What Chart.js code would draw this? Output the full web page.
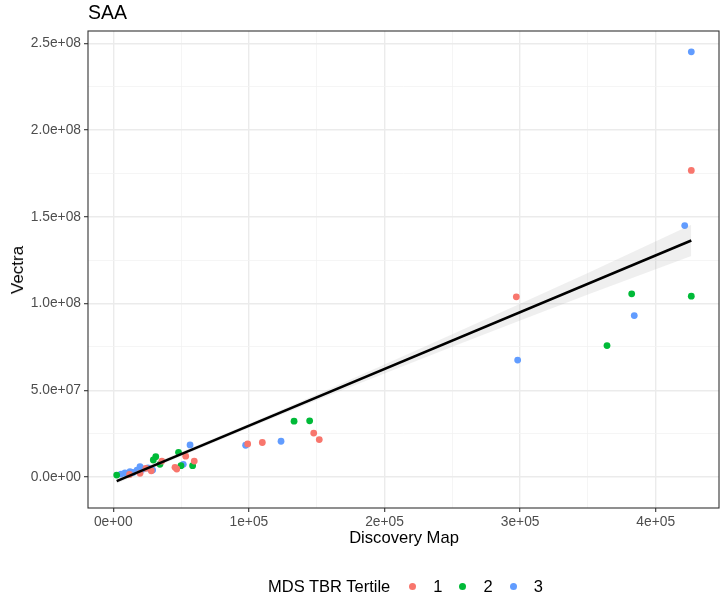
<!DOCTYPE html>
<html>
<head>
<meta charset="utf-8">
<script src="https://cdn.jsdelivr.net/npm/chart.js@4/dist/chart.umd.min.js"></script>
<style>
  body { margin: 0; background: #fff; }
  #wrap { position: relative; width: 727px; height: 601px; font-family: "Liberation Sans", Arial, sans-serif; }
  #chart { position: absolute; left: 0; top: 0; }
  .txt { position: absolute; color: #000; white-space: nowrap; }
  #title { left: 88px; top: 0px; font-size: 19.5px; line-height: 24px; }
  #ytitle { left: 18px; top: 270px; font-size: 17px; transform: translate(-50%, -50%) rotate(-90deg); }
  #xtitle { left: 404px; top: 538px; font-size: 16.6px; transform: translate(-50%, -50%); }
  #legend { left: 268px; top: 576px; font-size: 16.5px; line-height: 20px; display: flex; align-items: center; }
  #legend .head { margin-right: 2px; }
  .key { display: inline-flex; align-items: center; }
  .dot { display: inline-block; width: 7px; height: 7px; border-radius: 50%; margin: 0 17px 0 17px; }
</style>
</head>
<body>
<div id="wrap">
  <canvas id="chart" width="727" height="601"></canvas>
  <div class="txt" id="title">SAA</div>
  <div class="txt" id="ytitle">Vectra</div>
  <div class="txt" id="xtitle">Discovery Map</div>
  <div class="txt" id="legend"></div>
</div>
<script>
  const tertiles = ["1", "2", "3"];
  const tertileColors = ["#F8766D", "#00BA38", "#619CFF"];

  // tertile 1
  const t1X = [426250, 297200, 99100, 109900, 147800, 151900, 53400, 59700, 35800, 45500, 46800, 19700, 12000, 28000, 24000];
  const t1Y = [1.768e8, 1.039e8, 1.91e7, 1.99e7, 2.53e7, 2.16e7, 1.2e7, 9.2e6, 9.2e6, 5.6e6, 4.6e6, 2.1e6, 1.5e6, 3.6e6, 5.0e6];
  // tertile 2
  const t2X = [382300, 426250, 364100, 133300, 144800, 2500, 31300, 29500, 48100, 58500, 34400, 49900];
  const t2Y = [1.0565e8, 1.0427e8, 7.58e7, 3.22e7, 3.24e7, 1.1e6, 1.17e7, 9.8e6, 1.42e7, 6.5e6, 7.3e6, 6.5e6];
  // tertile 3
  const t3X = [426250, 421400, 384200, 298200, 97600, 123700, 56600, 51600, 29000, 8600, 12300, 17500, 21900, 25600, 28500, 19700, 5700, 19700, 14500, 10000];
  const t3Y = [2.452e8, 1.45e8, 9.31e7, 6.74e7, 1.83e7, 2.06e7, 1.85e7, 7.3e6, 4.0e6, 2.3e6, 3.1e6, 4.0e6, 4.6e6, 5.2e6, 4.0e6, 2.9e6, 1.7e6, 5.9e6, 2.6e6, 1.9e6];

  // fitted line and its band
  const fitX = [2500, 426250];
  const fitY = [-2.4e6, 1.364e8];
  const bandX = [2500, 50000, 100000, 150000, 200000, 250000, 300000, 350000, 426250];
  const bandHigh = [-1.0e6, 1.44e7, 3.07e7, 4.76e7, 6.49e7, 8.23e7, 9.99e7, 1.176e8, 1.454e8];
  const bandLow = [-3.8e6, 1.2e7, 2.83e7, 4.42e7, 5.97e7, 7.51e7, 9.03e7, 1.052e8, 1.274e8];

  const xTicks = [0, 50000, 100000, 150000, 200000, 250000, 300000, 350000, 400000];
  const xTickLabels = ["0e+00", "", "1e+05", "", "2e+05", "", "3e+05", "", "4e+05"];
  const yTicks = [0, 2.5e7, 5e7, 7.5e7, 1e8, 1.25e8, 1.5e8, 1.75e8, 2e8, 2.25e8, 2.5e8];
  const yTickLabels = ["0.0e+00", "", "5.0e+07", "", "1.0e+08", "", "1.5e+08", "", "2.0e+08", "", "2.5e+08"];

  const xMin = -18660, xMax = 446680;
  const yMin = -1.788e7, yMax = 2.572e8;

  function pairs(xs, ys) {
    return xs.map(function (x, i) { return { x: x, y: ys[i] }; });
  }

  function pointSet(label, xs, ys, color) {
    return {
      label: label, data: pairs(xs, ys), order: 2,
      backgroundColor: color, borderWidth: 0, pointRadius: 3.4, pointHoverRadius: 3.4
    };
  }

  function gridFor(labels) {
    return {
      color: function (ctx) { return labels[ctx.index] ? "#EBEBEB" : "#F3F3F3"; },
      lineWidth: function (ctx) { return labels[ctx.index] ? 1.4 : 0.8; },
      tickColor: function (ctx) { return labels[ctx.index] ? "#333333" : "rgba(0,0,0,0)"; },
      tickWidth: 1.1,
      tickLength: 4,
      drawTicks: true
    };
  }

  const panelBorder = {
    id: "panelBorder",
    afterDraw: function (chart) {
      const a = chart.chartArea;
      const ctx = chart.ctx;
      ctx.save();
      ctx.strokeStyle = "#333333";
      ctx.lineWidth = 1.1;
      ctx.strokeRect(a.left, a.top, a.right - a.left, a.bottom - a.top);
      ctx.restore();
    }
  };

  const tickFont = { family: "'Liberation Sans', Arial, sans-serif", size: 13.8 };

  new Chart(document.getElementById("chart"), {
    type: "scatter",
    data: {
      datasets: [
        { label: "fit", data: pairs(fitX, fitY), showLine: true, order: 0,
          borderColor: "#000000", borderWidth: 2.6, pointRadius: 0, fill: false },
        { label: "band high", data: pairs(bandX, bandHigh), showLine: true, order: 1,
          borderWidth: 0, borderColor: "rgba(0,0,0,0)", pointRadius: 0,
          fill: "+1", backgroundColor: "rgba(153,153,153,0.16)" },
        { label: "band low", data: pairs(bandX, bandLow), showLine: true, order: 1,
          borderWidth: 0, borderColor: "rgba(0,0,0,0)", pointRadius: 0, fill: false },
        pointSet(tertiles[0], t1X, t1Y, tertileColors[0]),
        pointSet(tertiles[1], t2X, t2Y, tertileColors[1]),
        pointSet(tertiles[2], t3X, t3Y, tertileColors[2])
      ]
    },
    options: {
      responsive: false,
      animation: false,
      layout: { padding: { left: 0, top: 31, right: 8, bottom: 0 } },
      plugins: { legend: { display: false }, tooltip: { enabled: false } },
      scales: {
        x: {
          type: "linear", min: xMin, max: xMax,
          afterBuildTicks: function (s) { s.ticks = xTicks.map(function (v) { return { value: v }; }); },
          afterFit: function (s) { s.height = 93; },
          grid: gridFor(xTickLabels),
          border: { display: false },
          ticks: {
            autoSkip: false, maxRotation: 0, padding: 2, color: "#4D4D4D", font: tickFont,
            callback: function (v, i) { return xTickLabels[i]; }
          }
        },
        y: {
          type: "linear", min: yMin, max: yMax,
          afterBuildTicks: function (s) { s.ticks = yTicks.map(function (v) { return { value: v }; }); },
          afterFit: function (s) { s.width = 88; },
          grid: gridFor(yTickLabels),
          border: { display: false },
          ticks: {
            autoSkip: false, padding: 3, color: "#4D4D4D", font: tickFont,
            callback: function (v, i) { return yTickLabels[i]; }
          }
        }
      }
    },
    plugins: [panelBorder]
  });

  const legend = document.getElementById("legend");
  legend.innerHTML = '<span class="head">MDS TBR Tertile</span>' + tertiles.map(function (t, i) {
    return '<span class="key"><span class="dot" style="background:' + tertileColors[i] + ';"></span><span>' + t + '</span></span>';
  }).join("");
</script>
</body>
</html>
